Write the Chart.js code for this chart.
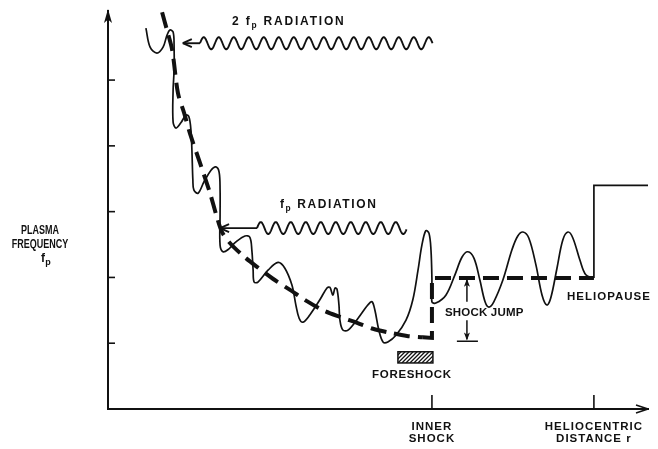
<!DOCTYPE html>
<html>
<head>
<meta charset="utf-8">
<script src="https://cdn.jsdelivr.net/npm/chart.js@4.4.1/dist/chart.umd.min.js"></script>
<style>
    html, body { margin: 0; padding: 0; background: #fff; }
    #wrap { width: 658px; height: 449px; }
</style>
</head>
<body>
<div id="wrap"><canvas id="plasmaChart" width="658" height="449"></canvas></div>
<script>
// x: heliocentric distance (inner shock = 1), y: plasma frequency (tick units)
const xTickValues = [1.0, 1.5];
const xTickLabels = [['INNER', 'SHOCK'], ['HELIOCENTRIC', 'DISTANCE r']];
const yTickValues = [1, 2, 3, 4, 5];

// thin line: fluctuating local plasma frequency
const fluctuation = [
    [0.117, 5.79], [0.130, 5.50], [0.151, 5.41], [0.170, 5.50], [0.182, 5.68], [0.191, 5.76],
    [0.201, 5.73], [0.204, 5.53], [0.204, 5.15], [0.201, 4.85], [0.201, 4.36], [0.210, 4.27],
    [0.225, 4.35], [0.241, 4.47], [0.250, 4.44], [0.256, 4.24], [0.259, 3.94], [0.262, 3.48],
    [0.265, 3.33], [0.278, 3.28], [0.296, 3.45], [0.318, 3.63], [0.333, 3.68], [0.343, 3.60],
    [0.346, 3.33], [0.346, 2.95], [0.346, 2.49], [0.355, 2.39], [0.370, 2.42], [0.395, 2.54],
    [0.423, 2.63], [0.438, 2.61], [0.444, 2.42], [0.448, 2.11], [0.451, 1.93], [0.463, 1.93],
    [0.494, 2.11], [0.525, 2.23], [0.546, 2.14], [0.568, 1.88], [0.580, 1.58], [0.590, 1.38],
    [0.602, 1.32], [0.623, 1.43], [0.654, 1.66], [0.676, 1.84], [0.685, 1.85], [0.694, 1.73],
    [0.701, 1.84], [0.707, 1.82], [0.713, 1.58], [0.716, 1.35], [0.725, 1.20], [0.741, 1.20],
    [0.772, 1.38], [0.802, 1.58], [0.815, 1.63], [0.824, 1.50], [0.836, 1.20], [0.849, 1.02],
    [0.864, 1.02], [0.889, 1.12], [0.920, 1.35], [0.941, 1.66], [0.957, 2.11], [0.969, 2.49],
    [0.981, 2.71], [0.991, 2.67], [0.997, 2.42], [1.000, 1.96], [1.000, 1.63], [1.012, 1.61],
    [1.043, 1.73], [1.071, 2.04], [1.093, 2.31], [1.111, 2.39], [1.130, 2.29], [1.148, 1.96],
    [1.164, 1.63], [1.176, 1.55], [1.191, 1.63], [1.219, 1.96], [1.247, 2.42], [1.265, 2.63],
    [1.281, 2.69], [1.299, 2.60], [1.321, 2.19], [1.340, 1.73], [1.355, 1.58], [1.367, 1.69],
    [1.386, 2.14], [1.404, 2.57], [1.420, 2.69], [1.435, 2.60], [1.457, 2.26], [1.475, 2.04],
    [1.500, 1.99]
];

// step up at the heliopause
const heliopauseStep = [[1.500, 1.99], [1.500, 3.40], [1.667, 3.40]];

// heavy dashed line: mean plasma frequency
const meanCurve = [
    [0.167, 6.03], [0.182, 5.76], [0.198, 5.46], [0.216, 4.80], [0.235, 4.50], [0.253, 4.19],
    [0.284, 3.74], [0.315, 3.28], [0.336, 2.92], [0.352, 2.69], [0.377, 2.52], [0.417, 2.33],
    [0.460, 2.16], [0.509, 1.98], [0.562, 1.81], [0.614, 1.64], [0.664, 1.50], [0.716, 1.40],
    [0.769, 1.31], [0.818, 1.22], [0.870, 1.16], [0.923, 1.11], [0.972, 1.09]
];
const shockBracket = [[0.972, 1.09], [1.000, 1.08], [1.000, 1.99], [1.500, 1.99]];

const xMax = 1.667;
const yMax = 6.05;
const ink = '#111';
const fontFamily = '"Liberation Sans", Arial, sans-serif';

function toPoints(arr) {
    return arr.map(p => ({x: p[0], y: p[1]}));
}

function line(ctx, x0, y0, x1, y1) {
    ctx.beginPath();
    ctx.moveTo(x0, y0);
    ctx.lineTo(x1, y1);
    ctx.stroke();
}

// filled arrow head, angle = direction the tip points to
function arrowHead(ctx, tx, ty, angle, len, half) {
    ctx.save();
    ctx.translate(tx, ty);
    ctx.rotate(angle);
    ctx.beginPath();
    ctx.moveTo(0, 0);
    ctx.lineTo(-len, -half);
    ctx.lineTo(-len * 0.75, 0);
    ctx.lineTo(-len, half);
    ctx.closePath();
    ctx.fill();
    ctx.restore();
}

// squiggle used as the "radiation" arrow shaft
function wave(ctx, x0, x1, yc, amp, period) {
    ctx.beginPath();
    ctx.moveTo(x0, yc);
    for (let p = x0; p <= x1; p += 0.5) {
        ctx.lineTo(p, yc - amp * Math.sin(2 * Math.PI * (p - x0) / period));
    }
    ctx.stroke();
}

// draws text pieces left to right, {t, sub} pieces use a smaller, lowered font
function richText(ctx, parts, x, y, size, spacing) {
    let cx = x;
    parts.forEach(part => {
        let s = part.sub ? size * 0.7 : size;
        ctx.font = `bold ${s}px ${fontFamily}`;
        ctx.letterSpacing = spacing + 'px';
        ctx.fillText(part.t, cx, y + (part.sub ? 3 : 0));
        cx += ctx.measureText(part.t).width;
    });
}

const radiationArrows = [
    {tip: 0.231, straightTo: 0.284, waveTo: 1.003, y: 5.56, period: 15},
    {tip: 0.346, straightTo: 0.460, waveTo: 0.923, y: 2.75, period: 15}
];

const sketchDecor = {
    id: 'sketchDecor',
    beforeDraw(chart) {
        chart.ctx.letterSpacing = '1px';
    },
    afterDatasetsDraw(chart) {
        const {ctx, chartArea} = chart;
        const X = v => chart.scales.x.getPixelForValue(v);
        const Y = v => chart.scales.y.getPixelForValue(v);
        ctx.save();
        ctx.strokeStyle = ink;
        ctx.fillStyle = ink;
        ctx.lineWidth = 1.6;

        // tick marks drawn inside the axes
        yTickValues.forEach(v => line(ctx, chartArea.left, Y(v), chartArea.left + 7, Y(v)));
        xTickValues.forEach(v => line(ctx, X(v), chartArea.bottom, X(v), chartArea.bottom - 14));

        // axis arrows
        arrowHead(ctx, chartArea.left, chartArea.top - 2, -Math.PI / 2, 14, 4);
        line(ctx, chartArea.right - 12, chartArea.bottom - 4, chartArea.right, chartArea.bottom);
        line(ctx, chartArea.right - 12, chartArea.bottom + 4, chartArea.right, chartArea.bottom);

        // wavy radiation arrows
        ctx.lineWidth = 1.9;
        radiationArrows.forEach(a => {
            let yc = Y(a.y);
            line(ctx, X(a.tip), yc, X(a.straightTo), yc);
            line(ctx, X(a.tip), yc, X(a.tip) + 9, yc - 4);
            line(ctx, X(a.tip), yc, X(a.tip) + 9, yc + 4);
            wave(ctx, X(a.straightTo), X(a.waveTo), yc, 6, a.period);
        });

        // shock jump marker
        ctx.lineWidth = 1.5;
        line(ctx, X(1.108), Y(1.63), X(1.108), Y(1.96));
        arrowHead(ctx, X(1.108), Y(1.98), -Math.PI / 2, 8, 3);
        line(ctx, X(1.108), Y(1.35), X(1.108), Y(1.06));
        arrowHead(ctx, X(1.108), Y(1.04), Math.PI / 2, 8, 3);
        line(ctx, X(1.077), Y(1.03), X(1.142), Y(1.03));

        // foreshock hatched box
        let bx0 = X(0.895), bx1 = X(1.003), by0 = Y(0.87), by1 = Y(0.70);
        ctx.lineWidth = 1.5;
        ctx.strokeRect(bx0, by0, bx1 - bx0, by1 - by0);
        ctx.save();
        ctx.beginPath();
        ctx.rect(bx0, by0, bx1 - bx0, by1 - by0);
        ctx.clip();
        ctx.lineWidth = 1.3;
        for (let hx = bx0 - 12; hx < bx1 + 12; hx += 4) {
            line(ctx, hx, by1, hx + (by1 - by0), by0);
        }
        ctx.restore();

        // labels
        ctx.textAlign = 'left';
        ctx.textBaseline = 'alphabetic';
        richText(ctx, [{t: '2 '}, {t: 'f'}, {t: 'p', sub: true}, {t: ' RADIATION'}], X(0.383), Y(5.84), 12, 1.8);
        richText(ctx, [{t: 'f'}, {t: 'p', sub: true}, {t: ' RADIATION'}], X(0.531), Y(3.05), 12, 1.6);
        richText(ctx, [{t: 'SHOCK JUMP'}], X(1.040), Y(1.41), 11.5, 0.2);
        richText(ctx, [{t: 'HELIOPAUSE'}], X(1.417), Y(1.66), 11.5, 1.0);
        richText(ctx, [{t: 'FORESHOCK'}], X(0.815), Y(0.47), 11.5, 0.7);

        // y axis label, narrow lettering
        ctx.letterSpacing = '0px';
        ctx.font = `bold 12px ${fontFamily}`;
        ctx.textAlign = 'center';
        [['PLASMA', 2.66], ['FREQUENCY', 2.44]].forEach(([t, v]) => {
            ctx.save();
            ctx.translate(40, Y(v));
            ctx.scale(0.75, 1);
            ctx.fillText(t, 0, 0);
            ctx.restore();
        });
        ctx.font = `bold 12px ${fontFamily}`;
        ctx.fillText('f', 43, Y(2.23));
        ctx.font = `bold 9px ${fontFamily}`;
        ctx.fillText('p', 48, Y(2.23) + 3);

        ctx.restore();
    }
};

const canvas = document.getElementById('plasmaChart');
const ctx = canvas.getContext('2d');

const lineStyle = {
    borderColor: ink,
    pointRadius: 0,
    fill: false,
    clip: false
};

new Chart(ctx, {
    type: 'line',
    data: {
        datasets: [
            Object.assign({data: toPoints(meanCurve), borderWidth: 4, borderDash: [16, 8], tension: 0.3}, lineStyle),
            Object.assign({data: toPoints(shockBracket), borderWidth: 4, borderDash: [16, 8], tension: 0}, lineStyle),
            Object.assign({data: toPoints(fluctuation), borderWidth: 1.7, tension: 0.35}, lineStyle),
            Object.assign({data: toPoints(heliopauseStep), borderWidth: 1.7, tension: 0}, lineStyle)
        ]
    },
    options: {
        responsive: false,
        animation: false,
        events: [],
        layout: {padding: {top: 11, right: 10}},
        plugins: {
            legend: {display: false},
            tooltip: {enabled: false}
        },
        scales: {
            x: {
                type: 'linear',
                min: 0,
                max: xMax,
                afterFit: s => { s.height = 40; },
                afterBuildTicks: s => { s.ticks = xTickValues.map(v => ({value: v})); },
                grid: {display: false, drawTicks: false},
                border: {display: true, color: ink, width: 2},
                ticks: {
                    autoSkip: false,
                    maxRotation: 0,
                    padding: 12,
                    color: ink,
                    font: {family: fontFamily, size: 11.5, weight: 'bold', lineHeight: 1.05},
                    callback: v => xTickLabels[xTickValues.indexOf(v)]
                }
            },
            y: {
                type: 'linear',
                min: 0,
                max: yMax,
                afterFit: s => { s.width = 108; },
                afterBuildTicks: s => { s.ticks = yTickValues.map(v => ({value: v})); },
                grid: {display: false, drawTicks: false},
                border: {display: true, color: ink, width: 2},
                ticks: {display: false}
            }
        }
    },
    plugins: [sketchDecor]
});
</script>
</body>
</html>
